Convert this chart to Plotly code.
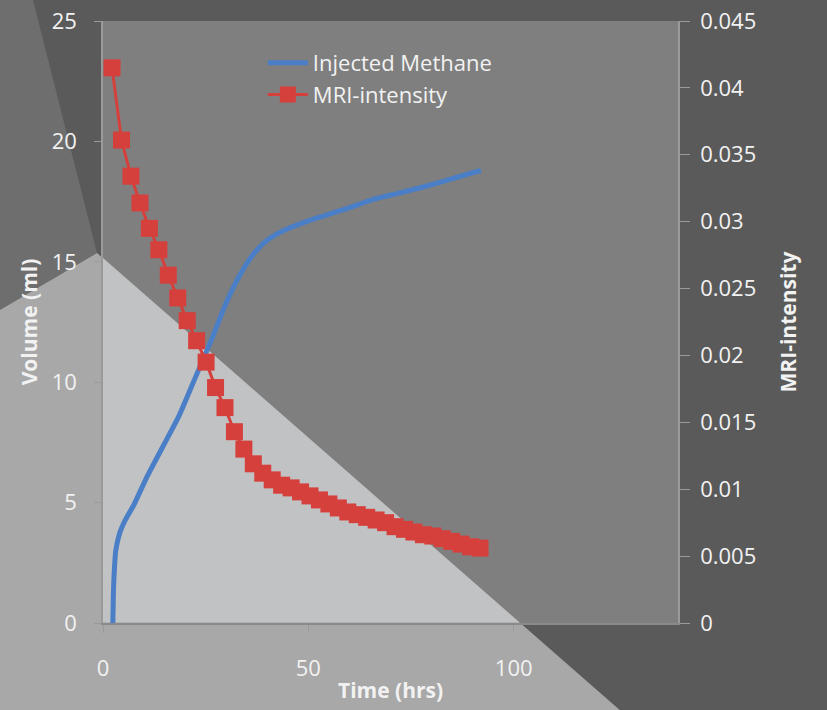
import plotly.graph_objects as go

# Injected methane volume (ml) against time (hrs)
methane_time = [2.4, 2.5, 2.7, 3.1, 4.0, 5.5, 7.5, 10.5, 14.5, 18.5, 22.5, 26.5,
                30.0, 33.5, 37.0, 40.0, 44.0, 50.0, 60.0, 66.0, 72.0, 80.0, 86.0, 92.0]
methane_volume = [0.0, 1.0, 2.0, 3.0, 3.7, 4.3, 4.9, 6.0, 7.3, 8.6, 10.2, 11.8,
                  13.3, 14.5, 15.4, 15.9, 16.3, 16.7, 17.25, 17.6, 17.85, 18.2, 18.5, 18.8]

# MRI intensity against time (hrs)
mri_time = [2.2, 4.5, 6.8, 9.0, 11.3, 13.6, 15.9, 18.2, 20.5, 22.8, 25.1, 27.4,
            29.7, 32.0, 34.3, 36.6, 38.9, 41.2, 43.5, 45.8, 48.1, 50.4, 52.7, 55.0,
            57.3, 59.6, 61.9, 64.2, 66.5, 68.8, 71.1, 73.4, 75.7, 78.0, 80.3, 82.6,
            84.9, 87.2, 89.5, 91.8]
mri_intensity = [0.0415, 0.0361, 0.0334, 0.0314, 0.0295, 0.0279, 0.0260, 0.0243,
                 0.0226, 0.0211, 0.0195, 0.0176, 0.0161, 0.0143, 0.0130, 0.0119,
                 0.0112, 0.0107, 0.0103, 0.0101, 0.0098, 0.0095, 0.0092, 0.0089,
                 0.0086, 0.0083, 0.0081, 0.0079, 0.0077, 0.0075, 0.0072, 0.0070,
                 0.0068, 0.0066, 0.0065, 0.0063, 0.0061, 0.0059, 0.0057, 0.0056]

time_ticks = [0, 50, 100]
volume_ticks = [0, 5, 10, 15, 20, 25]
intensity_ticks = [0, 0.005, 0.01, 0.015, 0.02, 0.025, 0.03, 0.035, 0.04, 0.045]
intensity_tick_labels = ["0", "0.005", "0.01", "0.015", "0.02", "0.025",
                         "0.03", "0.035", "0.04", "0.045"]

W, H = 827, 710
ML, MR, MT, MB = 103, 149, 21, 87
FONT = "Open Sans"
TXT = "#f2f2f2"
BLUE = "#4a7ec6"
RED = "#d6403c"
TICK_SIZE = 22
TITLE_SIZE = 21


def paper(px, py):
    """Pixel position on the page -> paper coordinates."""
    return (px - ML) / (W - ML - MR), (H - MB - py) / (H - MT - MB)


def poly(points, color, xref="paper", yref="paper"):
    conv = [paper(x, y) for x, y in points]
    path = "M " + " L ".join(f"{x:.5f},{y:.5f}" for x, y in conv) + " Z"
    return dict(type="path", path=path, xref=xref, yref=yref,
                fillcolor=color, line=dict(width=0), layer="below")


shapes = [
    # backdrop panels
    poly([(0, 0), (33, 0), (97, 253), (0, 310)], "#6e6e6e"),
    poly([(0, 310), (97, 253), (622, 712), (0, 712)], "#a8a8a8"),
    # plot area panels
    dict(type="rect", xref="x domain", yref="y domain", x0=0, x1=1, y0=0, y1=1,
         fillcolor="#7f7f7f", line=dict(width=0), layer="below"),
    poly([(103, 258), (520, 622.7), (103, 622.7)], "#c1c2c3"),
]

fig = go.Figure()
fig.add_trace(go.Scatter(
    x=methane_time, y=methane_volume, name="Injected Methane",
    mode="lines", line=dict(color=BLUE, width=5, shape="spline", smoothing=0.6),
    yaxis="y"))
fig.add_trace(go.Scatter(
    x=mri_time, y=mri_intensity, name="MRI-intensity",
    mode="lines+markers", line=dict(color=RED, width=3),
    marker=dict(symbol="square", size=17, color=RED), yaxis="y2"))

fig.update_layout(
    width=W, height=H,
    margin=dict(l=ML, r=MR, t=MT, b=MB),
    paper_bgcolor="#5a5a5a",
    plot_bgcolor="rgba(0,0,0,0)",
    font=dict(family=FONT, color=TXT, size=TICK_SIZE),
    shapes=shapes,
    showlegend=True,
    legend=dict(x=0.278, y=0.965, xanchor="left", yanchor="top",
                bgcolor="rgba(0,0,0,0)", font=dict(size=22, color=TXT),
                itemwidth=40, tracegroupgap=0),
    xaxis=dict(range=[0, 140], tickvals=time_ticks, ticks="outside", ticklen=8,
               tickcolor="#9a9a9a", showline=True, linecolor="#8a8a8a",
               linewidth=1.5, showgrid=False, zeroline=False,
               ticklabelstandoff=17, tickfont=dict(size=TICK_SIZE, color=TXT),
               title=dict(text="<b>Time (hrs)</b>",
                          font=dict(size=TITLE_SIZE, color=TXT), standoff=2),
               automargin=False),
    yaxis=dict(range=[0, 25], tickvals=volume_ticks, ticks="outside", ticklen=7,
               tickcolor="#9a9a9a", showline=True, linecolor="#9a9a9a",
               linewidth=1.5, showgrid=False, zeroline=False,
               ticklabelstandoff=13, tickfont=dict(size=TICK_SIZE, color=TXT),
               title=dict(text="<b>Volume (ml)</b>",
                          font=dict(size=TITLE_SIZE, color=TXT), standoff=8),
               automargin=False),
    yaxis2=dict(range=[0, 0.045], tickvals=intensity_ticks,
                ticktext=intensity_tick_labels, overlaying="y", side="right",
                ticks="outside", ticklen=10, tickcolor="#9a9a9a", showline=True,
                linecolor="#9a9a9a", linewidth=1.5, showgrid=False, zeroline=False,
                ticklabelstandoff=6, tickfont=dict(size=TICK_SIZE, color=TXT),
                title=dict(text="<b>MRI-intensity</b>",
                           font=dict(size=TITLE_SIZE, color=TXT), standoff=26),
                automargin=False),
)

fig.write_html("out.html")
